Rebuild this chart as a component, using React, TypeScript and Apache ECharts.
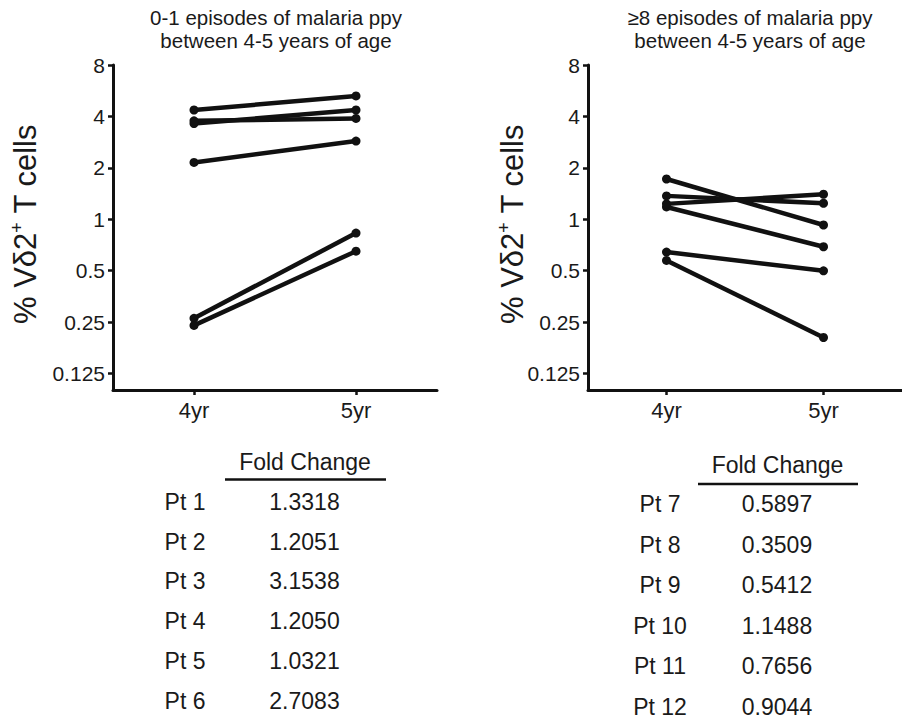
import React, { useEffect, useRef } from "react";
import * as echarts from "echarts";

const categories = ["4yr", "5yr"];
const yTicks = [0.125, 0.25, 0.5, 1, 2, 4, 8];

// left panel: 0-1 episodes
const leftPatients = ["Pt 1", "Pt 2", "Pt 3", "Pt 4", "Pt 5", "Pt 6"];
const pt1 = [2.15, 2.87];
const pt2 = [4.36, 5.27];
const pt3 = [0.263, 0.83];
const pt4 = [3.63, 4.36];
const pt5 = [3.77, 3.89];
const pt6 = [0.239, 0.65];
const leftFold = ["1.3318", "1.2051", "3.1538", "1.2050", "1.0321", "2.7083"];

// right panel: >=8 episodes
const rightPatients = ["Pt 7", "Pt 8", "Pt 9", "Pt 10", "Pt 11", "Pt 12"];
const pt7 = [1.18, 0.69];
const pt8 = [0.574, 0.203];
const pt9 = [1.72, 0.925];
const pt10 = [1.23, 1.4];
const pt11 = [0.642, 0.499];
const pt12 = [1.37, 1.24];
const rightFold = ["0.5897", "0.3509", "0.5412", "1.1488", "0.7656", "0.9044"];

const leftTitle = "0-1 episodes of malaria ppy\nbetween 4-5 years of age";
const rightTitle = "≥8 episodes of malaria ppy\nbetween 4-5 years of age";

const FONT = "'Liberation Sans', Arial, Helvetica, sans-serif";
const INK = "#111";
const TXT = "#1a1a1a";

export default function App() {
  const ref = useRef<HTMLDivElement>(null);
  useEffect(() => {
    if (!ref.current) return;
    const chart = echarts.init(ref.current, null, { renderer: "svg" });

    const makeX = (gi: number) => ({
      type: "category",
      gridIndex: gi,
      data: categories,
      boundaryGap: true,
      axisLine: { show: true, lineStyle: { color: INK, width: 3 } },
      axisTick: { show: true, alignWithLabel: true, length: 5, lineStyle: { color: INK, width: 2.5 } },
      axisLabel: { fontSize: 22, color: TXT, margin: 9, fontFamily: FONT },
      splitLine: { show: false },
    });
    const makeY = (gi: number) => ({
      type: "log",
      logBase: 2,
      gridIndex: gi,
      min: 0.1,
      max: 8,
      axisLine: { show: true, lineStyle: { color: INK, width: 3 } },
      axisTick: { show: true, length: 5, customValues: yTicks, lineStyle: { color: INK, width: 2.5 } },
      axisLabel: {
        fontSize: 21,
        color: TXT,
        margin: 8,
        fontFamily: FONT,
        customValues: yTicks,
        formatter: (v: number) => String(v),
      },
      splitLine: { show: false },
      minorTick: { show: false },
    });

    const mkSeries = (data: number[], gi: number) => ({
      type: "line",
      xAxisIndex: gi,
      yAxisIndex: gi,
      data,
      symbol: "circle",
      symbolSize: 9,
      showSymbol: true,
      lineStyle: { color: INK, width: 4.5 },
      itemStyle: { color: INK },
      silent: true,
    });

    const graphic: any[] = [];
    const titleStyle = (text: string) => ({
      text,
      fontSize: 20.5,
      lineHeight: 23,
      fontFamily: FONT,
      fill: TXT,
      align: "center",
      verticalAlign: "middle",
    });
    graphic.push({ type: "text", x: 276, y: 29, style: titleStyle(leftTitle) });
    graphic.push({ type: "text", x: 750, y: 29, style: titleStyle(rightTitle) });

    const yName = (x: number) => ({
      type: "text",
      x,
      y: 224,
      rotation: Math.PI / 2,
      style: {
        text: "{a|% Vδ2}{s|+}{a| T cells}",
        fill: TXT,
        align: "center",
        verticalAlign: "middle",
        rich: {
          a: { fontSize: 31, fontFamily: FONT, fill: TXT, lineHeight: 35, verticalAlign: "middle" },
          s: { fontSize: 18, fontFamily: FONT, fill: TXT, lineHeight: 18, verticalAlign: "top" },
        },
      },
    });
    graphic.push(yName(25));
    graphic.push(yName(512));

    const textAt = (text: string, x: number, y: number, size = 23) => ({
      type: "text",
      x,
      y,
      style: { text, fontSize: size, fontFamily: FONT, fill: TXT, align: "center", verticalAlign: "middle" },
    });

    // left table
    graphic.push(textAt("Fold Change", 305, 462));
    graphic.push({ type: "line", shape: { x1: 225, y1: 479.5, x2: 386, y2: 479.5 }, style: { stroke: INK, lineWidth: 2.5 } });
    leftPatients.forEach((p, i) => {
      graphic.push(textAt(p, 185, 501.7 + 39.8 * i));
      graphic.push(textAt(leftFold[i], 304.5, 501.7 + 39.8 * i));
    });
    // right table
    graphic.push(textAt("Fold Change", 777.5, 465));
    graphic.push({ type: "line", shape: { x1: 698, y1: 484, x2: 858, y2: 484 }, style: { stroke: INK, lineWidth: 2.5 } });
    rightPatients.forEach((p, i) => {
      graphic.push(textAt(p, 660, 504.3 + 40.5 * i));
      graphic.push(textAt(rightFold[i], 777, 504.3 + 40.5 * i));
    });

    chart.setOption({
      animation: false,
      backgroundColor: "#fff",
      textStyle: { fontFamily: FONT },
      grid: [
        { left: 113, top: 65, width: 324, height: 325 },
        { left: 588, top: 65, width: 324, height: 325 },
      ],
      xAxis: [makeX(0), makeX(1)],
      yAxis: [makeY(0), makeY(1)],
      series: [
        ...[pt1, pt2, pt3, pt4, pt5, pt6].map((d) => mkSeries(d, 0)),
        ...[pt7, pt8, pt9, pt10, pt11, pt12].map((d) => mkSeries(d, 1)),
      ],
      graphic,
    });
    return () => chart.dispose();
  }, []);
  return (
    <div
      ref={ref}
      style={{ position: "fixed", left: 0, top: 0, width: 902, height: 719, background: "#fff" }}
    />
  );
}
